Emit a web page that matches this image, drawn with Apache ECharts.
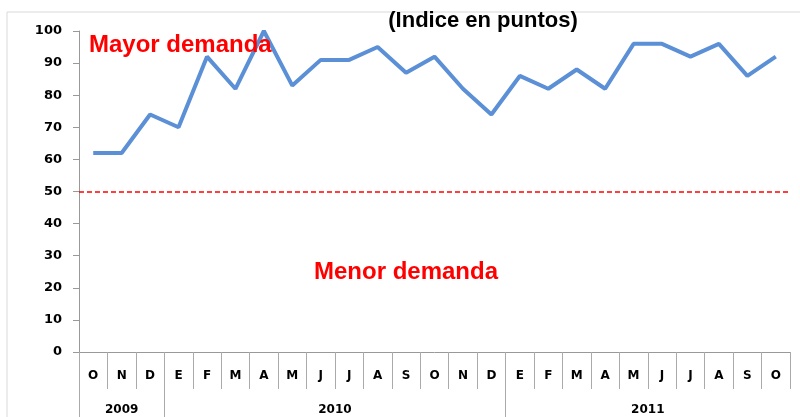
<!DOCTYPE html>
<html><head><meta charset="utf-8">
<script src="https://cdn.jsdelivr.net/npm/echarts@6/dist/echarts.min.js"></script>
<style>html,body{margin:0;padding:0;background:#fff}#c{width:800px;height:417px}</style>
</head><body><div id="c"></div>
<script>
const months = ['O','N','D','E','F','M','A','M','J','J','A','S','O','N','D','E','F','M','A','M','J','J','A','S','O'];
const values = [62,62,74,70,92,82,100,83,91,91,95,87,92,82,74,86,82,88,82,96,96,92,96,86,92];
const years = ['2009','2010','2011'];
const yearStart = [0,3,15];
const yearCount = [3,12,10];
const threshold = 50;

const chart = echarts.init(document.getElementById('c'), null, {renderer:'canvas'});
const tickFont = {color:'#000', fontWeight:'bold', fontSize:12, fontFamily:'DejaVu Sans'};
chart.setOption({
  animation:false,
  backgroundColor:'#fff',
  graphic:[{type:'rect', shape:{x:7,y:12,width:800,height:420}, style:{fill:'none', stroke:'#d9d9d9', lineWidth:1}, silent:true}],
  title:[
    {text:'(Indice en puntos)', left:478, top:5, textAlign:'center', textStyle:{fontSize:22, fontWeight:'bold', color:'#000', fontFamily:'Liberation Sans'}},
    {text:'Mayor demanda', left:84, top:28, textStyle:{fontSize:24, fontWeight:'bold', color:'#ff0000', fontFamily:'Liberation Sans'}},
    {text:'Menor demanda', left:309, top:255, textStyle:{fontSize:24, fontWeight:'bold', color:'#ff0000', fontFamily:'Liberation Sans'}}
  ],
  grid:{left:79, right:10, top:31, bottom:65, containLabel:false},
  xAxis:[
    {type:'category', data:months, position:'bottom', boundaryGap:true,
     axisLine:{lineStyle:{color:'#999', width:1}},
     axisTick:{show:true, interval:0, length:37, lineStyle:{color:'#aaa'}},
     axisLabel:{interval:0, margin:18, ...tickFont}},
    {type:'value', min:0, max:25, position:'bottom',
     axisLine:{show:false}, splitLine:{show:false},
     axisTick:{show:true, customValues:yearStart, length:66, lineStyle:{color:'#aaa'}},
     axisLabel:{customValues:yearStart.map((s,i)=>s+yearCount[i]/2), margin:52, ...tickFont,
       formatter:(v)=>{const i=yearStart.findIndex((s,k)=>Math.abs(s+yearCount[k]/2-v)<1e-6); return i>=0?years[i]:'';}}}
  ],
  yAxis:{type:'value', min:0, max:100, interval:10,
    axisLine:{show:true, lineStyle:{color:'#999'}},
    axisTick:{show:true, length:6, lineStyle:{color:'#999'}},
    splitLine:{show:false},
    axisLabel:{margin:17, ...tickFont, fontSize:13}},
  series:[{type:'line', data:values, xAxisIndex:0, symbol:'none',
    lineStyle:{color:'#5b8fd6', width:4}, 
    markLine:{silent:true, symbol:'none', label:{show:false},
      lineStyle:{color:'#ff0000', type:[5,3], width:1.5},
      data:[{yAxis:threshold}]}}]
});
</script></body></html>
